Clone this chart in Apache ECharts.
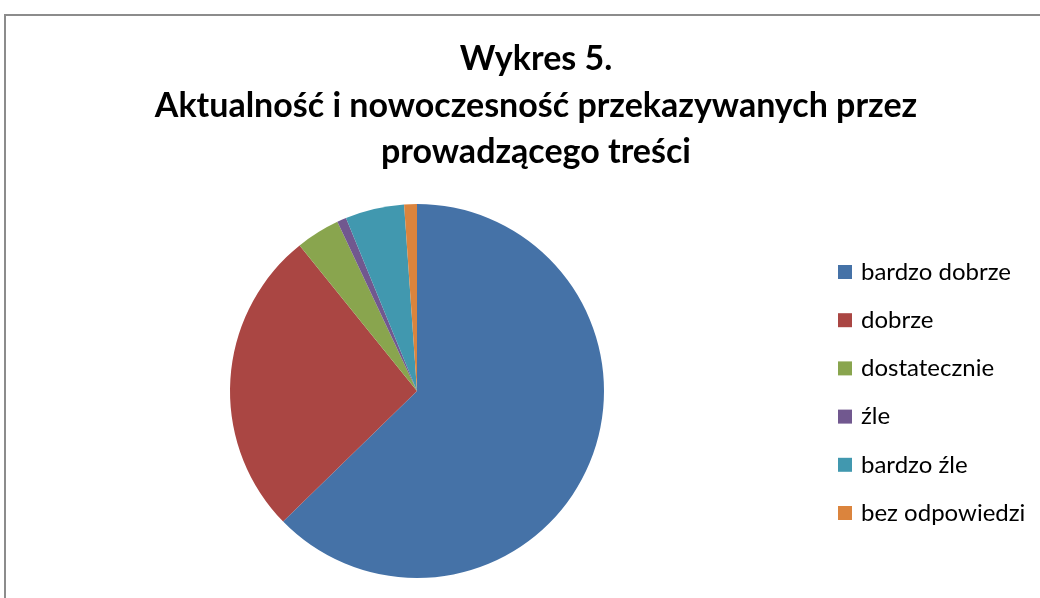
<!DOCTYPE html>
<html>
<head>
<meta charset="utf-8">
<script src="https://cdn.jsdelivr.net/npm/echarts@6/dist/echarts.min.js"></script>
<style>
  html, body { margin: 0; padding: 0; background: #fff; overflow: hidden; }
  #frame { position: absolute; left: 4px; top: 14px; width: 2000px; height: 2000px;
           border-left: 2px solid #8c8c8c; border-top: 2px solid #8c8c8c; }
  #main { position: absolute; left: 0; top: 0; width: 1040px; height: 598px; }
</style>
</head>
<body>
<div id="frame"></div>
<div id="main"></div>
<script>
// odpowiedzi (%)
var categories = ['bardzo dobrze', 'dobrze', 'dostatecznie', 'źle', 'bardzo źle', 'bez odpowiedzi'];
var values = [62.7, 26.5, 3.8, 0.8, 5.1, 1.1];
var colors = ['#4572A7', '#AA4643', '#89A54E', '#71588F', '#4198AF', '#DB843D'];

var chart = echarts.init(document.getElementById('main'));

var pieData = categories.map(function (name, i) {
  return { name: name, value: values[i] };
});

chart.setOption({
  animation: false,
  color: colors,
  title: {
    text: 'Wykres 5.\nAktualność i nowoczesność przekazywanych przez\nprowadzącego treści',
    left: 531,
    textAlign: 'center',
    top: 31,
    textStyle: {
      fontFamily: 'Lato',
      fontWeight: 'bold',
      fontSize: 34,
      lineHeight: 46.5,
      color: '#000'
    }
  },
  legend: {
    orient: 'vertical',
    left: 838,
    top: 260,
    padding: 0,
    icon: 'rect',
    itemWidth: 14,
    itemHeight: 14,
    itemGap: 24.2,
    textStyle: {
      fontFamily: 'Lato',
      fontSize: 24,
      color: '#000',
      padding: [0, 0, 0, 4]
    },
    data: categories
  },
  series: [{
    type: 'pie',
    center: [417, 391],
    radius: 187,
    startAngle: 90,
    clockwise: true,
    label: { show: false },
    labelLine: { show: false },
    itemStyle: { borderWidth: 0 },
    emphasis: { disabled: true },
    data: pieData
  }]
});
</script>
</body>
</html>
